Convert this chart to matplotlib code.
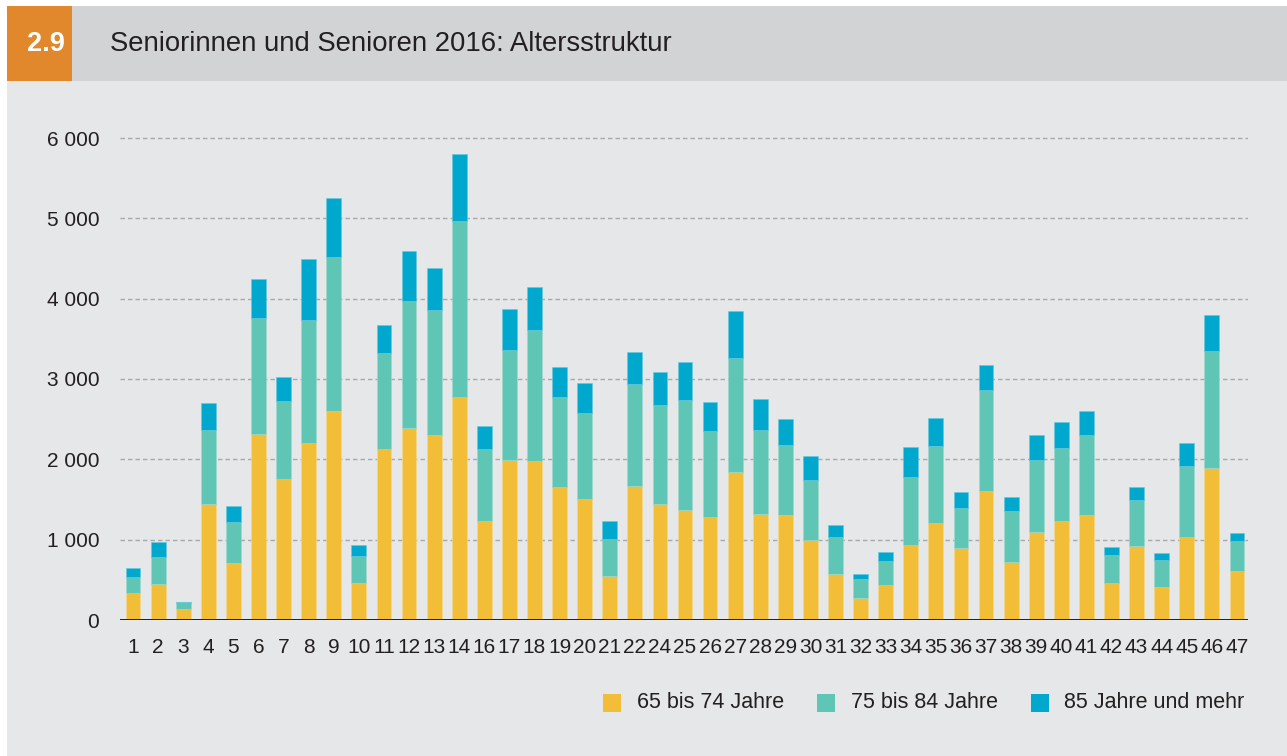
import matplotlib
matplotlib.use('Agg')
import matplotlib.pyplot as plt
from matplotlib.patches import Rectangle
import numpy as np

# ---------------- data ----------------
categories = ['1', '2', '3', '4', '5', '6', '7', '8', '9', '10', '11', '12', '13', '14',
              '16', '17', '18', '19', '20', '21', '22', '24', '25', '26', '27', '28', '29',
              '30', '31', '32', '33', '34', '35', '36', '37', '38', '39', '40', '41', '42',
              '43', '44', '45', '46', '47']
age_65_74 = [332, 449, 137, 1441, 714, 2313, 1757, 2205, 2604, 461, 2130, 2388, 2305, 2770,
             1238, 1989, 1977, 1657, 1507, 552, 1674, 1441, 1375, 1283, 1844, 1321, 1304,
             1001, 569, 274, 436, 934, 1213, 897, 1607, 723, 1096, 1238, 1304, 457,
             922, 407, 1034, 1894, 606]
age_75_84 = [204, 336, 75, 926, 507, 1441, 971, 1533, 1918, 336, 1196, 1586, 1557, 2201,
             892, 1375, 1632, 1121, 1072, 457, 1262, 1238, 1366, 1072, 1420, 1038, 880,
             743, 465, 237, 299, 848, 955, 494, 1254, 635, 897, 905, 1001, 353,
             573, 341, 885, 1457, 378]
age_85_plus = [108, 183, 8, 332, 203, 490, 295, 751, 727, 137, 345, 619, 519, 835,
               283, 511, 540, 370, 374, 224, 399, 402, 465, 361, 577, 398, 324,
               303, 145, 62, 108, 377, 349, 200, 312, 170, 308, 320, 291, 95,
               158, 91, 286, 449, 96]
series_labels = ['65 bis 74 Jahre', '75 bis 84 Jahre', '85 Jahre und mehr']
y_ticks = [0, 1000, 2000, 3000, 4000, 5000, 6000]
y_tick_labels = ['0', '1 000', '2 000', '3 000', '4 000', '5 000', '6 000']
chart_number = '2.9'
chart_title = 'Seniorinnen und Senioren 2016: Altersstruktur'

# ---------------- style ----------------
W, H = 1287, 756
DPI = 100
colors = ['#f2be38', '#5fc6b6', '#00a8cd']
bg = '#e6e7e8'
header_bg = '#d1d3d4'
orange = '#e0882b'
text_col = '#231f20'
sans = ['Liberation Sans', 'DejaVu Sans']
narrow = ['Liberation Sans Narrow', 'Liberation Sans', 'DejaVu Sans']

fig = plt.figure(figsize=(W / DPI, H / DPI), dpi=DPI)
fig.patch.set_facecolor('white')

def px_rect(x0, y0, x1, y1, color, z=0):
    fig.add_artist(Rectangle((x0 / W, 1 - y1 / H), (x1 - x0) / W, (y1 - y0) / H,
                             transform=fig.transFigure, facecolor=color,
                             edgecolor='none', zorder=z))

# background panels
px_rect(7, 81, W, H, bg, z=-10)
px_rect(72, 6, W, 81, header_bg, z=-10)
px_rect(7, 6, 72, 81, orange, z=-10)

fig.text(46 / W, 1 - 44 / H, chart_number, color='white', fontsize=19.5,
         fontweight='bold', family=sans, ha='center', va='center')
fig.text(110 / W, 1 - 44 / H, chart_title, color=text_col, fontsize=19.8,
         family=sans, ha='left', va='center')

# axes
y_top = 6150
px_per_unit = (620 - 138) / 6000
top_px = 620 - y_top * px_per_unit
ax = fig.add_axes([120 / W, 1 - 620 / H, (1248 - 120) / W, (620 - top_px) / H])
ax.set_facecolor('none')

x = np.arange(len(categories))
bw = 0.59
b1 = np.array(age_65_74)
b2 = np.array(age_75_84)
b3 = np.array(age_85_plus)
ax.bar(x, b1, bw, color=colors[0], zorder=3, edgecolor='#f6d98a', linewidth=0.4)
ax.bar(x, b2, bw, bottom=b1, color=colors[1], zorder=3, edgecolor='#9ad8cd', linewidth=0.4)
ax.bar(x, b3, bw, bottom=b1 + b2, color=colors[2], zorder=3, edgecolor='#66c7dd', linewidth=0.4)

ax.set_xlim(-0.52, len(categories) - 1 + 0.44)
ax.set_ylim(0, y_top)

for v in y_ticks[1:]:
    ax.axhline(v, color='#a7a9ac', lw=1.0, dashes=(3.2, 2.2), zorder=1)
ax.axhline(0, color=text_col, lw=1.4, zorder=4)

for s in ax.spines.values():
    s.set_visible(False)

ax.set_yticks(y_ticks)
ax.set_yticklabels(y_tick_labels, family=sans, fontsize=15, color=text_col)
ax.set_xticks(x)
ax.set_xticklabels(categories, family=narrow, fontsize=15, color=text_col)
ax.tick_params(axis='y', length=0, pad=15)
ax.tick_params(axis='x', length=0, pad=13)

# legend (manual)
leg_sq_x = [603, 817, 1031]
leg_txt_x = [637, 851, 1064]
for c, lab, sx, tx in zip(colors, series_labels, leg_sq_x, leg_txt_x):
    px_rect(sx, 694, sx + 18, 712, c, z=5)
    fig.text(tx / W, 1 - 703 / H, lab, color=text_col, fontsize=15.5, family=sans,
             ha='left', va='center')

fig.savefig('out.png', dpi=DPI, facecolor=fig.get_facecolor())
